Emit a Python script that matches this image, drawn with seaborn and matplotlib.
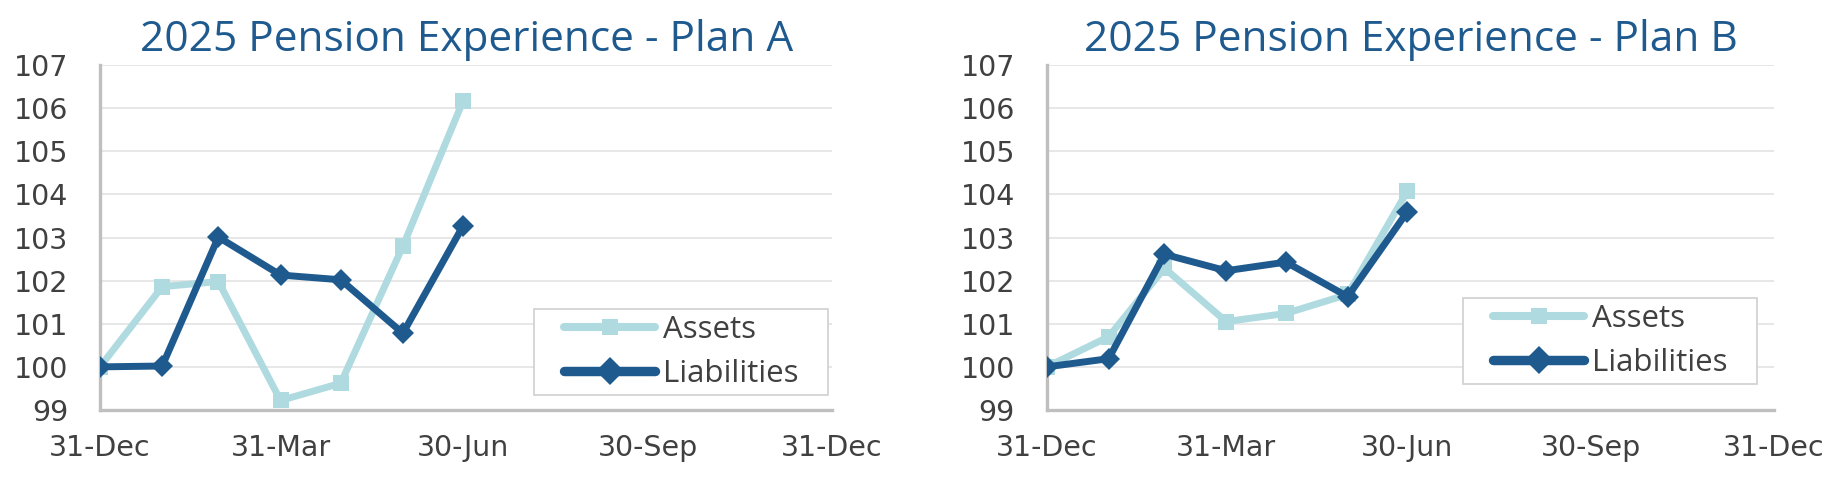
import matplotlib
matplotlib.use("Agg")
import matplotlib.pyplot as plt
from matplotlib.patches import Rectangle
from matplotlib.transforms import IdentityTransform
import seaborn as sns
import pandas as pd

# ---- data ----
month_ends = ["2024-12-31", "2025-01-31", "2025-02-28", "2025-03-31",
              "2025-04-30", "2025-05-31", "2025-06-30"]
tick_dates = ["2024-12-31", "2025-03-31", "2025-06-30", "2025-09-30", "2025-12-31"]
tick_labels = ["31-Dec", "31-Mar", "30-Jun", "30-Sep", "31-Dec"]

plan_a_assets = [100.0, 101.86, 101.98, 99.22, 99.62, 102.80, 106.17]
plan_a_liabilities = [100.0, 100.02, 103.01, 102.13, 102.02, 100.78, 103.27]
plan_b_assets = [100.0, 100.70, 102.29, 101.05, 101.24, 101.68, 104.08]
plan_b_liabilities = [100.0, 100.19, 102.61, 102.23, 102.43, 101.63, 103.60]

titles = ["2025 Pension Experience - Plan A", "2025 Pension Experience - Plan B"]
series_names = ["Assets", "Liabilities"]

# ---- style ----
sns.set_theme(style="white")
plt.rcParams["font.family"] = ["DejaVu Sans"]

ASSET_C = "#AEDAE0"
LIAB_C = "#1F5A8F"
GRID_C = "#E3E3E3"
AXIS_C = "#BFBFBF"
TEXT_C = "#404040"
LW = {"Assets": 5.8, "Liabilities": 6.8}
MS = {"Assets": 12, "Liabilities": 14}

base = pd.Timestamp(month_ends[0])
def to_days(ds):
    return [(pd.Timestamp(d) - base).days for d in ds]

days = to_days(month_ends)
tick_pos = to_days(tick_dates)

fig = plt.figure(figsize=(18.22, 4.92), dpi=100)
axes_rects = [[0.0549, 0.1667, 0.4018, 0.701], [0.5746, 0.1667, 0.399, 0.701]]
legend_centers = [(0.3740, 0.2846), (0.8838, 0.3069)]
data_sets = [(plan_a_assets, plan_a_liabilities), (plan_b_assets, plan_b_liabilities)]
legends = []

for i in range(2):
    ax = fig.add_axes(axes_rects[i])
    a, l = data_sets[i]
    df = pd.DataFrame({
        "day": days * 2,
        "value": a + l,
        "series": [series_names[0]] * len(a) + [series_names[1]] * len(l),
    })
    sns.lineplot(data=df, x="day", y="value", hue="series", style="series",
                 palette={"Assets": ASSET_C, "Liabilities": LIAB_C},
                 markers={"Assets": "s", "Liabilities": "D"}, dashes=False,
                 linewidth=5, markersize=11, markeredgewidth=0,
                 ax=ax, zorder=3, legend=True)
    for line in ax.get_lines():
        name = line.get_label()
        if name in LW:
            line.set_linewidth(LW[name])
            line.set_markersize(MS[name])
        line.set_solid_capstyle("round")
        line.set_solid_joinstyle("round")

    ax.set_xlim(tick_pos[0], tick_pos[-1])
    ax.set_ylim(99, 107)
    ax.set_xticks(tick_pos)
    ax.set_xticklabels(tick_labels)
    ax.set_yticks(range(99, 108))
    ax.set_xlabel("")
    ax.set_ylabel("")
    ax.grid(axis="y", color=GRID_C, linewidth=1.2, zorder=0)
    ax.grid(axis="x", visible=False)
    for s in ["top", "right"]:
        ax.spines[s].set_visible(False)
    for s in ["left", "bottom"]:
        ax.spines[s].set_color(AXIS_C)
        ax.spines[s].set_linewidth(2.4)
    ax.tick_params(axis="both", which="major", direction="out", length=6,
                   width=2.4, color=AXIS_C, labelcolor=TEXT_C, labelsize=20.5)
    ax.tick_params(axis="x", pad=11)
    ax.tick_params(axis="y", pad=17)
    ax.set_title(titles[i], fontsize=30.5, color=LIAB_C, pad=10,
                 family=["Open Sans", "DejaVu Sans"])

    leg = ax.legend(loc="center", bbox_to_anchor=legend_centers[i],
                    bbox_transform=fig.transFigure,
                    frameon=False, handlelength=2.9, handletextpad=0.25,
                    borderpad=0.0, labelspacing=0.45,
                    prop={"family": ["Open Sans"], "size": 22.5})
    leg.set_zorder(6)
    for h in leg.legend_handles:
        name = h.get_label()
        if name in LW:
            h.set_linewidth(LW[name])
            h.set_markersize(MS[name])
            h.set_solid_capstyle("round")
    for t in leg.get_texts():
        t.set_color(TEXT_C)
    legends.append((ax, leg))

# legend frames: wider horizontal padding than vertical, as in the original
fig.canvas.draw()
for ax, leg in legends:
    bb = leg.get_window_extent()
    padx, pady = 30, 6
    rect = Rectangle((bb.x0 - padx, bb.y0 - pady), bb.width + 2 * padx,
                     bb.height + 2 * pady, transform=IdentityTransform(),
                     facecolor="white", edgecolor="#D0D0D0", linewidth=1.2,
                     zorder=5, clip_on=False)
    ax.add_artist(rect)

fig.savefig("out.png", dpi=100, facecolor="white")
